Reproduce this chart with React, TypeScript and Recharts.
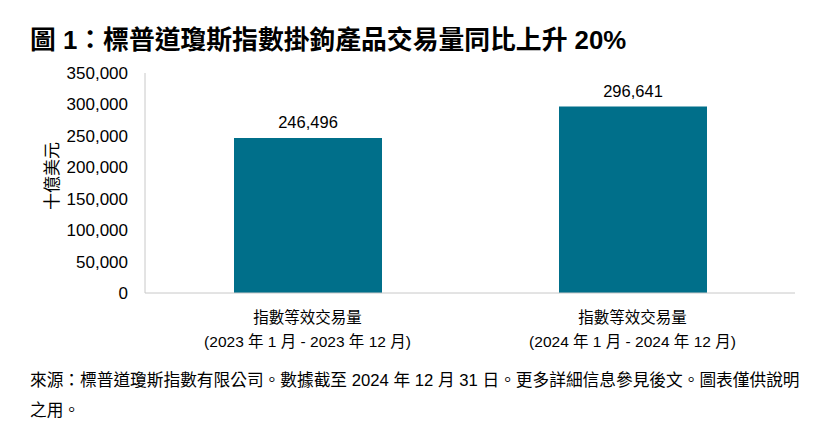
import React from 'react';
import { BarChart, Bar, XAxis, YAxis, LabelList, Label } from 'recharts';

const categories = ['指數等效交易量|(2023 年 1 月 - 2023 年 12 月)', '指數等效交易量|(2024 年 1 月 - 2024 年 12 月)'];
const values = [246496, 296641];
const yTicks = [0, 50000, 100000, 150000, 200000, 250000, 300000, 350000];

const data = categories.map((c, i) => ({ name: c, value: values[i] }));

const FONT = '"Liberation Sans", Arial, "Noto Sans CJK TC", sans-serif';
const fmt = (v: number) => v.toLocaleString('en-US');

const XTick = (props: any) => {
  const { x, y, payload } = props;
  const [l1, l2] = String(payload.value).split('|');
  return (
    <g>
      <text x={x} y={y + 22} textAnchor="middle" fontSize={15.5} fill="#000" fontFamily={FONT}>{l1}</text>
      <text x={x} y={y + 46} textAnchor="middle" fontSize={15.5} fill="#000" fontFamily={FONT}>{l2}</text>
    </g>
  );
};

export default function App() {
  return (
    <div style={{ position: 'absolute', left: 0, top: 0, width: 825, height: 441, background: '#fff', fontFamily: FONT }}>
      <div style={{ position: 'absolute', left: 30, top: 19, fontSize: 25.8, fontWeight: 'bold', color: '#000', whiteSpace: 'nowrap' }}>
        圖 1：標普道瓊斯指數掛鉤產品交易量同比上升 20%
      </div>
      <div style={{ position: 'absolute', left: 0, top: 0 }}>
        <BarChart width={825} height={360} data={data} margin={{ top: 73, right: 30, left: 0, bottom: 0 }}>
          <XAxis
            dataKey="name"
            axisLine={{ stroke: '#c8c8c8' }}
            tickLine={false}
            tick={<XTick />}
            height={67}
            interval={0}
          />
          <YAxis
            width={145}
            domain={[0, 350000]}
            ticks={yTicks}
            tickFormatter={fmt}
            axisLine={{ stroke: '#c8c8c8' }}
            tickLine={false}
            tick={{ fill: '#000', fontSize: 17, fontFamily: FONT }}
            tickMargin={11}
            interval={0}
          >
            <Label
              content={() => (
                <text x={58} y={176} transform="rotate(-90 58 176)" textAnchor="middle" fontSize={17} fill="#000" fontFamily={FONT}>
                  十億美元
                </text>
              )}
            />
          </YAxis>
          <Bar dataKey="value" fill="#006f8a" barSize={148} isAnimationActive={false}>
            <LabelList dataKey="value" position="top" offset={10} formatter={(v: any) => fmt(Number(v))} style={{ fill: '#000', fontSize: 16.5, fontFamily: FONT }} />
          </Bar>
        </BarChart>
      </div>
      <div style={{ position: 'absolute', left: 30, top: 366, fontSize: 16.7, lineHeight: '30px', color: '#000', whiteSpace: 'nowrap' }}>
        來源：標普道瓊斯指數有限公司。數據截至 2024 年 12 月 31 日。更多詳細信息參見後文。圖表僅供說明
        <br />
        之用。
      </div>
    </div>
  );
}
